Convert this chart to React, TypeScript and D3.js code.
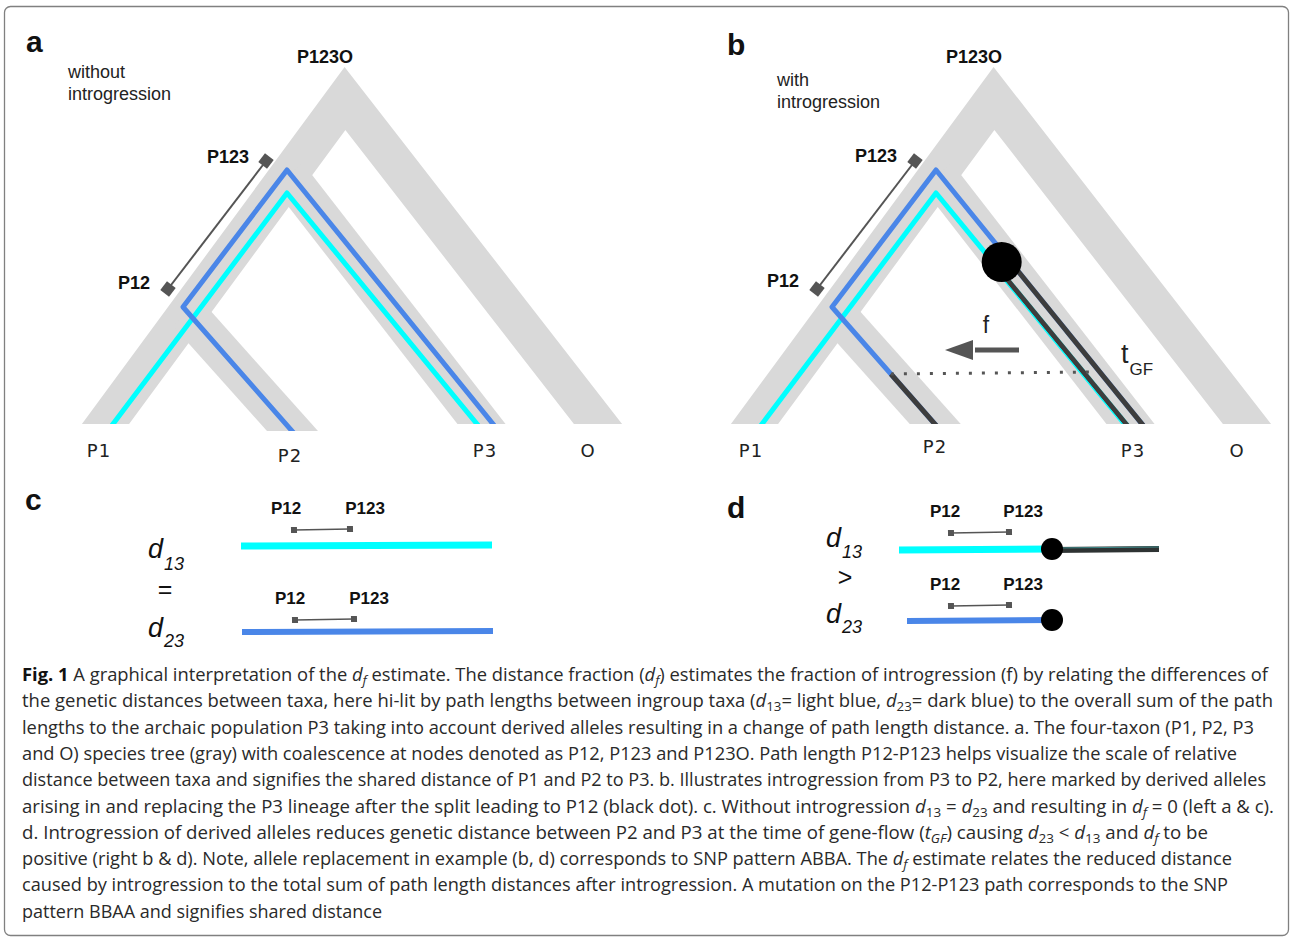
import React, { useRef, useEffect } from "react";
import * as d3 from "d3";

const W = 1291;
const H = 938;

type Pt = [number, number];

// ---- species tree, panel-local units ----
const outerBranch: Pt[] = [[105.5, 424], [345, 98.5], [598, 424]]; // P1 - P123O - O
const p3Branch: Pt[] = [[288, 175], [481.5, 424]]; // P123 -> P3
const p2Branch: Pt[] = [[187, 313], [292.5, 431]]; // P12 -> P2

// path lengths between ingroup taxa
const cyanPath: Pt[] = [[113, 424], [287, 193], [477, 424]]; // d13
const bluePath: Pt[] = [[292, 431], [183, 307], [287, 170], [493, 424]]; // d23

// P12-P123 scale bar
const scaleBar: Pt[] = [[168, 289], [266, 161]];

// tip / node labels per panel (absolute)
const tipNames = ["P1", "P2", "P3", "O"];
const tipXa = [99, 290, 485, 588];
const tipYa = [457, 462, 457, 457];
const tipXb = [751, 935, 1133, 1237];
const tipYb = [457, 453, 457, 457];

const nodeNames = ["P123O", "P123", "P12"];
const nodeXa = [325, 228, 134];
const nodeYa = [63, 163, 289];
const nodeXb = [974, 876, 783];
const nodeYb = [63, 162, 287];

// gene flow (panel b, panel-local)
const dotY = 262;
const dotR = 20;
const tgfY = [374, 372];
const tgfEndX = 443;
const arrowF = { x0: 370, base: 324, tip: 296, y: 350, half: 10 };

const panels = [
  { key: "a", dx: 0, letterX: 26, letterY: 52, note: ["without", "introgression"], noteX: 68, noteY: 78, p2Bottom: 431, tipX: tipXa, tipY: tipYa, nodeX: nodeXa, nodeY: nodeYa, flow: false },
  { key: "b", dx: 649, letterX: 727, letterY: 55, note: ["with", "introgression"], noteX: 777, noteY: 86, p2Bottom: 424, tipX: tipXb, tipY: tipYb, nodeX: nodeXb, nodeY: nodeYb, flow: true },
];

// ---- panels c & d ----
const cBars = [
  { sub: "13", y: 546, x0: 241, x1: 492, color: "#00ffff", w: 7 },
  { sub: "23", y: 632, x0: 242, x1: 493, color: "#4a86e8", w: 6 },
];
const cScale = [
  { y: 530, x0: 294, x1: 350, labelY: 514, p12X: 286, p123X: 365 },
  { y: 620, x0: 295, x1: 354, labelY: 604, p12X: 290, p123X: 369 },
];
const cD = { x: 148, subX: 164, y: [558, 637], subY: [570, 647], opX: 165, opY: 598, op: "=" };

const dBars = [
  { sub: "13", y: 550, x0: 899, x1: 1052, tail: 1159, color: "#00ffff", w: 7 },
  { sub: "23", y: 621, x0: 907, x1: 1052, tail: null, color: "#4a86e8", w: 6 },
];
const dScale = [
  { y: 533, x0: 951, x1: 1009, labelY: 517, p12X: 945, p123X: 1023 },
  { y: 606, x0: 951, x1: 1009, labelY: 590, p12X: 945, p123X: 1023 },
];
const dD = { x: 826, subX: 842, y: [547, 623], subY: [558, 633], opX: 845, opY: 586, op: ">" };

// ---- caption ----
const captionLines: [string, string][][] = [
  [["b", "Fig. 1"], ["n", " A graphical interpretation of the "], ["i", "d"], ["is", "f"], ["n", " estimate. The distance fraction ("], ["i", "d"], ["is", "f"], ["n", ") estimates the fraction of introgression (f) by relating the differences of"]],
  [["n", "the genetic distances between taxa, here hi-lit by path lengths between ingroup taxa ("], ["i", "d"], ["s", "13"], ["n", "= light blue, "], ["i", "d"], ["s", "23"], ["n", "= dark blue) to the overall sum of the path"]],
  [["n", "lengths to the archaic population P3 taking into account derived alleles resulting in a change of path length distance. a. The four-taxon (P1, P2, P3"]],
  [["n", "and O) species tree (gray) with coalescence at nodes denoted as P12, P123 and P123O. Path length P12-P123 helps visualize the scale of relative"]],
  [["n", "distance between taxa and signifies the shared distance of P1 and P2 to P3. b. Illustrates introgression from P3 to P2, here marked by derived alleles"]],
  [["n", "arising in and replacing the P3 lineage after the split leading to P12 (black dot). c. Without introgression "], ["i", "d"], ["s", "13"], ["n", " = "], ["i", "d"], ["s", "23"], ["n", " and resulting in "], ["i", "d"], ["is", "f"], ["n", " = 0 (left a & c)."]],
  [["n", "d. Introgression of derived alleles reduces genetic distance between P2 and P3 at the time of gene-flow ("], ["i", "t"], ["is", "GF"], ["n", ") causing "], ["i", "d"], ["s", "23"], ["n", " < "], ["i", "d"], ["s", "13"], ["n", " and "], ["i", "d"], ["is", "f"], ["n", " to be"]],
  [["n", "positive (right b & d). Note, allele replacement in example (b, d) corresponds to SNP pattern ABBA. The "], ["i", "d"], ["is", "f"], ["n", " estimate relates the reduced distance"]],
  [["n", "caused by introgression to the total sum of path length distances after introgression. A mutation on the P12-P123 path corresponds to the SNP"]],
  [["n", "pattern BBAA and signifies shared distance"]],
];
const captionEnds = [1268, 1273, 1254, 1237, 1266, 1274, 1208, 1232, 1228, 382];

const GRAY = "#d9d9d9";
const BAR = "#555555";
const DARK = "#3d3d3d";
const SANS = "Liberation Sans, Arial, sans-serif";

function extend(a: Pt, b: Pt, len: number): Pt {
  const dx = b[0] - a[0], dy = b[1] - a[1], n = Math.hypot(dx, dy);
  return [b[0] + (dx / n) * len, b[1] + (dy / n) * len];
}
function extendBoth(p: Pt[], len: number): Pt[] {
  const n = p.length;
  return [extend(p[1], p[0], len), ...p.slice(1, n - 1), extend(p[n - 2], p[n - 1], len)];
}
function pointAtY(a: Pt, b: Pt, yv: number): Pt {
  const t = (yv - a[1]) / (b[1] - a[1]);
  return [a[0] + t * (b[0] - a[0]), yv];
}

function App() {
  const svgRef = useRef<SVGSVGElement | null>(null);

  useEffect(() => {
    document.body.style.margin = "0";
    const svg = d3.select(svgRef.current).attr("width", W).attr("height", H);
    svg.selectAll("*").remove();

    svg.append("rect").attr("width", W).attr("height", H).attr("fill", "#fff");
    svg.append("rect")
      .attr("x", 4.5).attr("y", 6.5).attr("width", 1284).attr("height", 929)
      .attr("rx", 6).attr("fill", "none").attr("stroke", "#808080").attr("stroke-width", 1.3);

    const defs = svg.append("defs");

    const drawScaleBar = (g: any, p0: Pt, p1: Pt, size: number, width: number) => {
      g.append("line")
        .attr("x1", p0[0]).attr("y1", p0[1]).attr("x2", p1[0]).attr("y2", p1[1])
        .attr("stroke", BAR).attr("stroke-width", width);
      const ang = (Math.atan2(p1[1] - p0[1], p1[0] - p0[0]) * 180) / Math.PI;
      [p0, p1].forEach((p) => {
        g.append("rect")
          .attr("x", -size / 2).attr("y", -size / 2).attr("width", size).attr("height", size)
          .attr("fill", BAR)
          .attr("transform", `translate(${p[0]},${p[1]}) rotate(${ang})`);
      });
    };

    // ---------- tree panels a & b ----------
    panels.forEach((pn) => {
      const x = d3.scaleLinear().domain([0, 640]).range([pn.dx, pn.dx + 640]);
      const y = d3.scaleLinear().domain([0, 470]).range([0, 470]);
      const line = d3.line<Pt>().x((d) => x(d[0])).y((d) => y(d[1]));

      const clip = defs.append("clipPath").attr("id", `clip-${pn.key}`);
      clip.append("rect").attr("x", x(-20)).attr("y", 0).attr("width", 700).attr("height", y(424));
      clip.append("rect").attr("x", x(240)).attr("y", 0).attr("width", 100).attr("height", y(pn.p2Bottom));

      const g = svg.append("g").attr("clip-path", `url(#clip-${pn.key})`);

      // species tree (gray)
      [extendBoth(outerBranch, 40), [p3Branch[0], extend(p3Branch[0], p3Branch[1], 40)], [p2Branch[0], extend(p2Branch[0], p2Branch[1], 40)]]
        .forEach((pts) => {
          g.append("path").attr("d", line(pts as Pt[]))
            .attr("fill", "none").attr("stroke", GRAY).attr("stroke-width", 38)
            .attr("stroke-linejoin", "miter").attr("stroke-linecap", "butt");
        });

      // path lengths
      g.append("path").attr("d", line(extendBoth(cyanPath, 20)))
        .attr("fill", "none").attr("stroke", "#00ffff").attr("stroke-width", 5).attr("stroke-linejoin", "round");
      g.append("path").attr("d", line(extendBoth(bluePath, 20)))
        .attr("fill", "none").attr("stroke", "#4a86e8").attr("stroke-width", 5).attr("stroke-linejoin", "round");

      if (pn.flow) {
        const bR0 = pointAtY(bluePath[2], bluePath[3], dotY);
        const cR0 = pointAtY(cyanPath[1], cyanPath[2], dotY);
        const p2S = pointAtY(bluePath[1], bluePath[0], tgfY[0]);
        const bEnd = extend(bluePath[2], bluePath[3], 20);
        const cEnd = extend(cyanPath[1], cyanPath[2], 20);
        const pEnd = extend(bluePath[1], bluePath[0], 20);

        [[bR0, bEnd], [cR0, cEnd], [p2S, pEnd]].forEach((pts) => {
          g.append("path").attr("d", line(pts as Pt[]))
            .attr("fill", "none").attr("stroke", DARK).attr("stroke-width", 5);
        });
        // thin cyan beside the replaced lineage
        const dx = cEnd[0] - cR0[0], dy = cEnd[1] - cR0[1], n = Math.hypot(dx, dy);
        const off: Pt = [(-dy / n) * 3, (dx / n) * 3];
        g.append("path")
          .attr("d", line([[cR0[0] + off[0], cR0[1] + off[1]], [cEnd[0] + off[0], cEnd[1] + off[1]]]))
          .attr("fill", "none").attr("stroke", "#00ffff").attr("stroke-width", 1.2);

        // gene-flow time
        svg.append("line")
          .attr("x1", x(p2S[0])).attr("y1", y(tgfY[0])).attr("x2", x(tgfEndX)).attr("y2", y(tgfY[1]))
          .attr("stroke", BAR).attr("stroke-width", 3).attr("stroke-dasharray", "3 10");

        // introgression dot
        svg.append("circle")
          .attr("cx", x((bR0[0] + cR0[0]) / 2)).attr("cy", y(dotY)).attr("r", dotR).attr("fill", "#000");

        // arrow f
        svg.append("line")
          .attr("x1", x(arrowF.x0)).attr("y1", y(arrowF.y)).attr("x2", x(arrowF.base + 2)).attr("y2", y(arrowF.y))
          .attr("stroke", BAR).attr("stroke-width", 5);
        svg.append("path")
          .attr("d", `M${x(arrowF.tip)},${y(arrowF.y)} L${x(arrowF.base)},${y(arrowF.y - arrowF.half)} L${x(arrowF.base)},${y(arrowF.y + arrowF.half)} Z`)
          .attr("fill", BAR);
        svg.append("text").attr("x", x(337)).attr("y", y(333)).attr("text-anchor", "middle")
          .attr("font-family", SANS).attr("font-size", 23).attr("fill", "#222").text("f");
        svg.append("text").attr("x", x(472)).attr("y", y(363))
          .attr("font-family", SANS).attr("font-size", 27).attr("fill", "#222").text("t");
        svg.append("text").attr("x", x(480.5)).attr("y", y(375))
          .attr("font-family", SANS).attr("font-size", 17).attr("fill", "#222").text("GF");
      }

      // P12-P123 scale bar
      drawScaleBar(svg, [x(scaleBar[0][0]), y(scaleBar[0][1])], [x(scaleBar[1][0]), y(scaleBar[1][1])], 11, 2);

      // letters & notes
      svg.append("text").attr("x", pn.letterX).attr("y", pn.letterY)
        .attr("font-family", SANS).attr("font-weight", 700).attr("font-size", 30).attr("fill", "#111").text(pn.key);
      pn.note.forEach((s, i) => {
        svg.append("text").attr("x", pn.noteX).attr("y", pn.noteY + i * 22)
          .attr("font-family", SANS).attr("font-size", 18).attr("fill", "#222").text(s);
      });

      tipNames.forEach((s, i) => {
        svg.append("text").attr("x", pn.tipX[i]).attr("y", pn.tipY[i]).attr("text-anchor", "middle")
          .attr("font-family", "DejaVu Sans, sans-serif").attr("font-size", 18).attr("letter-spacing", 1)
          .attr("fill", "#222").text(s);
      });
      nodeNames.forEach((s, i) => {
        svg.append("text").attr("x", pn.nodeX[i]).attr("y", pn.nodeY[i]).attr("text-anchor", "middle")
          .attr("font-family", SANS).attr("font-weight", 700).attr("font-size", 18)
          .attr("fill", "#111").text(s);
      });
    });

    // ---------- panels c & d ----------
    const drawBars = (letter: string, lx: number, ly: number, bars: any[], scales: any[], lab: any, withDot: boolean) => {
      svg.append("text").attr("x", lx).attr("y", ly)
        .attr("font-family", SANS).attr("font-weight", 700).attr("font-size", 30).attr("fill", "#111").text(letter);

      scales.forEach((s) => {
        svg.append("text").attr("x", s.p12X).attr("y", s.labelY).attr("text-anchor", "middle")
          .attr("font-family", SANS).attr("font-weight", 700).attr("font-size", 17).attr("fill", "#111").text("P12");
        svg.append("text").attr("x", s.p123X).attr("y", s.labelY).attr("text-anchor", "middle")
          .attr("font-family", SANS).attr("font-weight", 700).attr("font-size", 17).attr("fill", "#111").text("P123");
        drawScaleBar(svg, [s.x0, s.y], [s.x1, s.y - 1], 6, 1.5);
      });

      bars.forEach((b, i) => {
        if (b.tail) {
          svg.append("line").attr("x1", b.x1).attr("y1", b.y).attr("x2", b.tail).attr("y2", b.y - 1)
            .attr("stroke", "#2e3333").attr("stroke-width", 6);
          svg.append("line").attr("x1", b.x1).attr("y1", b.y - 2).attr("x2", b.tail).attr("y2", b.y - 3)
            .attr("stroke", "#3f8a8a").attr("stroke-width", 1);
        }
        svg.append("line").attr("x1", b.x0).attr("y1", b.y).attr("x2", b.x1).attr("y2", b.y - 1)
          .attr("stroke", b.color).attr("stroke-width", b.w);
        if (withDot) {
          svg.append("circle").attr("cx", b.x1).attr("cy", b.y - 1).attr("r", 11).attr("fill", "#000");
        }
        svg.append("text").attr("x", lab.x).attr("y", lab.y[i])
          .attr("font-family", SANS).attr("font-style", "italic").attr("font-size", 27).attr("fill", "#111").text("d");
        svg.append("text").attr("x", lab.subX).attr("y", lab.subY[i])
          .attr("font-family", SANS).attr("font-style", "italic").attr("font-size", 18).attr("fill", "#111").text(b.sub);
      });
      svg.append("text").attr("x", lab.opX).attr("y", lab.opY).attr("text-anchor", "middle")
        .attr("font-family", SANS).attr("font-size", 25).attr("fill", "#111").text(lab.op);
    };

    drawBars("c", 25, 510, cBars, cScale, cD, false);
    drawBars("d", 727, 518, dBars, dScale, dD, true);

    // ---------- caption ----------
    const cap = svg.append("g")
      .attr("font-family", "Open Sans, Noto Sans, sans-serif").attr("font-size", 18).attr("fill", "#2a2a2a");
    captionLines.forEach((segs, i) => {
      const t = cap.append("text")
        .attr("x", 22).attr("y", 681 + i * 26.3)
        .attr("textLength", captionEnds[i] - 22).attr("lengthAdjust", "spacingAndGlyphs");
      let shifted = false;
      segs.forEach(([k, s]) => {
        const ts = t.append("tspan").text(s);
        const isSub = k === "s" || k === "is";
        if (isSub && !shifted) { ts.attr("dy", 4); shifted = true; }
        else if (!isSub && shifted) { ts.attr("dy", -4); shifted = false; }
        if (k === "b") ts.attr("font-weight", 700).attr("fill", "#111");
        if (k === "i" || k === "is") ts.attr("font-style", "italic");
        if (isSub) ts.attr("font-size", 13);
      });
    });
  }, []);

  return <svg ref={svgRef} style={{ position: "absolute", left: 0, top: 0, display: "block" }}></svg>;
}

export default App;
